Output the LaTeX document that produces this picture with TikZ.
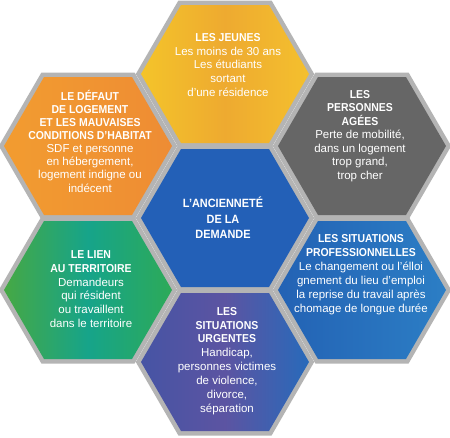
\documentclass[tikz,border=0pt]{standalone}
\usepackage{fontspec}
\setmainfont{Liberation Sans}
\newfontfamily\hdfont{Liberation Sans}[FakeStretch=0.91]
\definecolor{hexgray}{RGB}{180,180,180}
\definecolor{yelL}{RGB}{244,196,42}
\definecolor{yelM}{RGB}{238,170,48}
\definecolor{yelR}{RGB}{244,192,46}
\definecolor{oraL}{RGB}{242,156,48}
\definecolor{oraR}{RGB}{238,140,52}
\definecolor{darkgray}{RGB}{102,102,102}
\definecolor{midblue}{RGB}{35,96,183}
\definecolor{grnL}{RGB}{70,168,68}
\definecolor{grnM}{RGB}{22,164,138}
\definecolor{grnR}{RGB}{45,170,88}
\definecolor{bluL}{RGB}{35,98,180}
\definecolor{bluR}{RGB}{44,126,197}
\definecolor{purL}{RGB}{70,84,164}
\definecolor{purM}{RGB}{92,84,162}
\definecolor{purR}{RGB}{40,106,186}
\newcommand\hexpath[2]{(#1-84,#2) -- (#1-44,#2-69) -- (#1+44,#2-69) -- (#1+84,#2) -- (#1+44,#2+69) -- (#1-44,#2+69) -- cycle}
\newcommand\hd[1]{{\hdfont\bfseries #1}}
\tikzset{
  hexborder/.style={draw=hexgray, line width=9pt, line join=miter},
  txt/.style={text=white, align=center, inner sep=0pt},
}
\begin{document}
\begin{tikzpicture}[x=1pt,y=-1pt]
\useasboundingbox[fill=white] (0,0) rectangle (450,437);
% borders
\foreach \cx/\cy in {225/218,225/74,225/362,88/146,362/146,88/290,362/290}
  \draw[hexborder] \hexpath{\cx}{\cy};
% fills
\shade[left color=yelL, right color=yelR, middle color=yelM] \hexpath{225}{74};
\shade[left color=oraL, right color=oraR] \hexpath{88}{146};
\fill[darkgray] \hexpath{362}{146};
\fill[midblue] \hexpath{225}{218};
\shade[left color=grnL, right color=grnR, middle color=grnM] \hexpath{88}{290};
\shade[left color=bluL, right color=bluR] \hexpath{362}{290};
\shade[left color=purL, right color=purR, middle color=purM] \hexpath{225}{362};
% texts
\node[txt, font=\fontsize{11.5}{13.7}\selectfont] (jeunes) at (228,65) {\hd{LES JEUNES}\\Les moins de 30 ans\\Les étudiants\\sortant\\d’une résidence};
\node[txt, font=\fontsize{11.5}{13.15}\selectfont] (logement) at (90,141) {\hd{LE DÉFAUT}\\\hd{DE LOGEMENT}\\\hd{ET LES MAUVAISES}\\\hd{CONDITIONS D’HABITAT}\\SDF et personne\\en hébergement,\\logement indigne ou\\indécent};
\node[txt, font=\fontsize{11.5}{13.5}\selectfont] (agees) at (360,136) {\hd{LES}\\\hd{PERSONNES}\\\hd{AGÉES}\\Perte de mobilité,\\dans un logement\\trop grand,\\trop cher};
\node[txt, font=\fontsize{12}{15.5}\selectfont] (anciennete) at (223,218) {\hd{L’ANCIENNETÉ}\\\hd{DE LA}\\\hd{DEMANDE}};
\node[txt, font=\fontsize{11.5}{13.8}\selectfont] (lien) at (91,289) {\hd{LE LIEN}\\\hd{AU TERRITOIRE}\\Demandeurs\\qui résident\\ou travaillent\\dans le territoire};
\node[txt, font=\fontsize{11.5}{14}\selectfont] (pro) at (361,275) {\hd{LES SITUATIONS}\\\hd{PROFESSIONNELLES}\\Le changement ou l’élloi\\gnement du lieu d’emploi\\la reprise du travail après\\chomage de longue durée};
\node[txt, font=\fontsize{11.5}{13.9}\selectfont] (urgentes) at (227,361) {\hd{LES}\\\hd{SITUATIONS}\\\hd{URGENTES}\\Handicap,\\personnes victimes\\de violence,\\divorce,\\séparation};
\end{tikzpicture}
\end{document}
